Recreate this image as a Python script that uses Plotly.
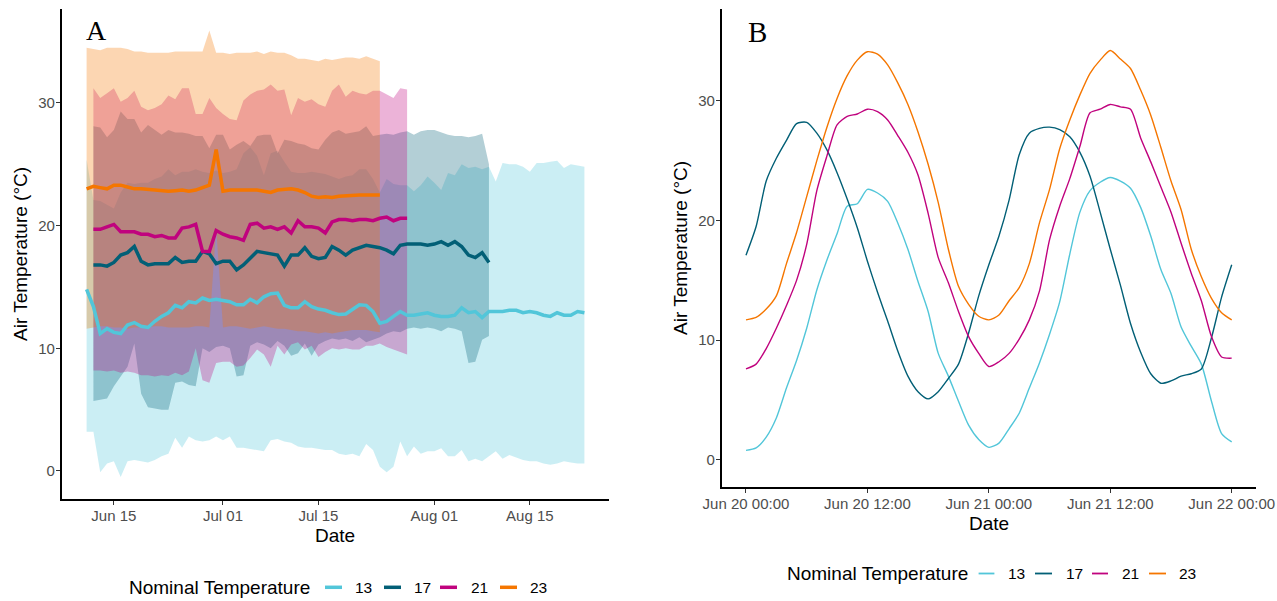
import pandas as pd
import plotly.graph_objects as go

W, H = 1277, 601

# ---------------- Panel A : daily mean / min / max air temperature ----------------
a13_start = "2021-06-11"
a13_mean = [14.8,13.4,11.2,11.6,11.3,11.2,11.9,12.1,11.8,11.7, 12.2,12.6,12.9,13.5,13.3,13.8,13.7,14.1,13.9,14.0,
            13.9,13.8,13.55,13.55,14.0,13.7,14.2,14.45,14.5,13.5, 13.3,13.3,13.8,13.4,13.2,13.1,12.9,12.75,12.8,13.2,
            13.55,13.5,13.0,12.05,12.2,12.6,13.0,12.7,12.7,12.8, 12.9,12.7,12.6,12.6,12.7,13.3,12.9,13.0,12.5,13.0,
            13.0,13.0,13.1,13.1,12.9,13.0,12.9,12.7,12.6,12.9, 12.7,12.7,13.0,12.9]
a13_min = [3.2,3.2,-0.1,0.6,0.8,-0.5,0.8,0.9,0.8,0.7, 0.9,1.2,1.4,2.7,1.9,2.8,2.5,2.4,2.5,2.8,
           2.5,2.8,1.9,1.9,1.8,1.7,1.6,2.5,2.6,2.4, 2.3,2.0,1.9,1.9,1.8,1.7,1.7,1.4,1.3,1.4,
           1.2,2.2,1.7,0.35,-0.1,0.35,2.4,1.2,2.0,1.4, 1.6,1.6,1.85,1.2,1.2,1.7,0.8,1.0,0.8,1.2,
           1.6,1.0,1.3,1.1,0.9,0.8,0.8,0.6,0.5,0.6, 0.8,0.7,0.6,0.6]
a13_max = [25.4,22.1,22.0,21.7,21.4,22.7,23.5,23.4,23.5,23.5, 23.8,24.0,24.6,24.1,24.4,24.4,24.6,24.4,24.3,24.5,
           24.3,24.4,24.6,25.9,26.4,25.7,24.1,25.9,26.1,25.2, 24.4,24.3,24.3,24.4,24.3,24.2,24.0,23.8,24.0,24.1,
           24.6,24.6,23.8,22.7,23.8,23.4,23.3,23.3,22.8,23.3, 24.0,23.5,22.9,24.3,24.1,25.0,24.7,24.8,24.6,24.8,
           23.6,25.1,25.0,25.0,24.8,24.4,25.1,25.1,25.2,25.3, 24.7,25.0,24.9,24.8]

a17_start = "2021-06-12"
a17_mean = [16.8,16.8,16.7,17.0,17.6,17.8,18.3,17.1,16.8,16.9, 16.9,16.9,17.4,17.0,17.1,17.1,17.9,17.7,16.9,17.1,
            17.1,16.4,16.8,17.4,17.9,17.8,17.7,17.6,16.7,17.6, 17.6,18.2,17.5,17.3,17.4,18.3,18.0,17.6,18.0,18.2,
            18.4,18.3,18.2,18.0,17.7,18.4,18.5,18.5,18.5,18.4, 18.5,18.7,18.4,18.7,18.3,17.6,17.4,17.8,17.0]
a17_min = [5.7,5.8,5.9,6.9,7.7,8.5,10.4,6.3,5.2,5.1, 5.0,5.0,7.2,7.3,7.0,6.9,10.0,9.7,10.1,10.2,
           10.0,7.7,7.8,10.2,10.5,10.3,10.0,10.6,10.2,9.4, 9.6,10.4,9.4,10.3,10.6,10.8,10.7,10.8,10.6,10.9,
           10.5,10.7,10.9,11.2,11.4,11.3,11.6,11.7,11.6,11.7, 11.6,11.4,11.7,11.6,11.4,8.8,8.9,10.7,11.0]
a17_max = [28.1,28.0,27.2,27.8,29.3,28.7,28.7,27.6,28.2,27.8, 27.4,27.8,27.6,27.6,27.5,27.3,27.3,26.3,27.4,27.4,
           26.2,26.6,26.9,26.5,27.3,27.4,27.4,25.9,27.0,26.9, 26.7,26.6,26.3,26.2,27.0,27.6,27.8,27.5,27.6,27.7,
           28.1,27.3,27.4,27.5,27.4,27.6,27.7,27.4,27.7,27.8, 27.8,27.6,27.4,27.3,27.3,27.2,27.3,27.5,25.0]

a21_start = "2021-06-12"
a21_mean = [19.7,19.7,19.9,20.1,19.5,19.5,19.5,19.3,19.3,19.1, 19.2,19.0,19.0,19.8,19.9,20.1,17.9,17.9,19.6,19.3,
            19.1,19.0,18.8,20.1,20.2,19.8,19.9,19.7,19.9,19.4, 20.4,19.9,19.9,19.8,19.4,20.3,20.5,20.5,20.4,20.5,
            20.5,20.4,20.6,20.7,20.4,20.6,20.6]
a21_min = [8.2,8.2,8.1,8.2,8.0,8.1,8.0,7.8,7.8,7.7, 7.8,7.75,8.0,7.8,8.1,10.0,7.4,7.2,8.8,8.9,
           8.9,8.5,8.6,9.2,9.9,9.5,8.5,10.2,9.5,10.3, 10.5,9.9,10.2,9.3,9.7,10.0,9.9,10.0,9.9,9.9,
           10.2,10.2,10.4,10.1,9.9,9.7,9.5]
a21_max = [31.2,30.4,30.8,31.2,30.1,30.4,31.0,29.7,29.4,29.6, 29.9,30.6,30.3,31.2,31.2,29.1,29.1,30.4,29.6,29.1,
           28.7,28.6,30.2,30.7,31.0,31.1,31.5,31.0,31.1,29.0, 30.4,30.1,30.3,29.9,29.7,31.0,31.5,30.5,31.0,30.8,
           30.7,31.0,31.0,30.7,30.4,31.2,31.1]

a23_start = "2021-06-11"
a23_mean = [23.0,23.2,23.1,23.0,23.3,23.3,23.15,23.0,23.0,22.95, 22.9,22.85,22.8,22.85,22.9,22.8,22.9,23.1,23.3,26.2,
            22.8,22.9,22.9,22.9,22.9,22.9,22.8,22.7,22.9,22.95, 23.0,22.9,22.7,22.4,22.3,22.35,22.3,22.4,22.45,22.5,
            22.5,22.5,22.5,22.5]
a23_min = [11.6,11.7,11.8,11.8,11.7,11.7,11.6,11.7,11.7,11.7, 11.8,11.8,11.7,11.7,11.7,11.7,11.8,11.8,11.7,19.8,
           11.7,11.8,11.8,11.7,11.6,11.7,11.8,11.7,11.6,11.6, 11.5,11.4,11.4,11.3,11.2,11.3,11.2,11.3,11.4,11.5,
           11.5,11.5,11.4,11.3]
a23_max = [34.5,34.4,34.3,34.5,34.5,34.5,34.4,34.2,34.2,34.1, 34.1,34.1,34.1,34.2,34.2,34.2,34.2,34.2,35.9,34.1,
           34.1,34.0,34.1,34.1,34.1,34.2,34.0,34.2,34.1,34.1, 33.9,33.6,33.6,33.5,33.4,33.6,33.5,33.6,33.7,33.7,
           33.6,33.8,33.6,33.4]

# ---------------- Panel B : hourly air temperature, Jun 20-22 ----------------
b_start = "2021-06-20 00:00"
b13 = [0.8,1.0,1.9,3.5,6.0,8.3,11.0,14.2,16.7,18.9, 21.2,21.4,22.6,22.3,21.6,19.8,17.6,14.9,12.4,8.9,
       7.0,4.9,2.9,1.7,1.05,1.4,2.6,3.9,6.0,8.1, 10.5,13.2,17.2,20.7,22.5,23.2,23.6,23.3,22.7,21.1,
       18.7,15.9,13.9,11.1,9.5,8.0,4.9,2.2,1.5]
b17 = [17.1,19.5,23.3,25.2,26.7,28.1,28.2,27.3,25.9,24.0, 21.8,19.4,16.6,14.0,11.6,9.1,7.0,5.7,5.1,5.7,
       6.8,8.0,10.6,13.7,16.3,18.7,21.7,25.5,27.3,27.7, 27.8,27.6,27.0,25.7,23.7,20.7,17.6,14.6,11.4,9.0,
       7.2,6.4,6.6,7.0,7.2,7.6,10.2,13.6,16.3]
b21 = [7.6,8.0,9.3,11.0,12.9,15.0,18.0,22.5,25.4,28.0, 28.7,28.9,29.3,29.1,28.4,27.1,25.7,23.8,20.6,16.9,
       14.8,12.4,10.3,8.9,7.8,8.2,8.9,10.1,11.7,14.1, 18.4,21.2,23.5,26.2,29.0,29.3,29.7,29.5,29.3,26.9,
       24.9,22.8,20.7,18.1,15.6,13.3,10.3,8.6,8.5]
b23 = [11.7,11.9,12.6,13.7,16.4,19.0,22.0,25.0,27.8,30.2, 32.1,33.4,34.1,33.9,33.0,31.5,29.7,27.4,24.7,21.5,
       17.6,14.5,13.0,12.0,11.7,12.1,13.3,14.4,16.4,19.8, 22.6,26.0,28.4,30.5,32.3,33.4,34.2,33.5,32.7,30.9,
       28.8,26.1,23.3,20.9,17.6,15.3,13.5,12.3,11.7]

groups = ["13", "17", "21", "23"]
colors = {"13": "#52C6D9", "17": "#025F76", "21": "#C0037E", "23": "#F57600"}
legend_title = "Nominal Temperature"

seriesA = {
    "13": (a13_start, a13_mean, a13_min, a13_max),
    "17": (a17_start, a17_mean, a17_min, a17_max),
    "21": (a21_start, a21_mean, a21_min, a21_max),
    "23": (a23_start, a23_mean, a23_min, a23_max),
}
seriesB = {"13": b13, "17": b17, "21": b21, "23": b23}


def rgba(hexc, a):
    h = hexc.lstrip("#")
    r, g, b = int(h[0:2], 16), int(h[2:4], 16), int(h[4:6], 16)
    return f"rgba({r},{g},{b},{a})"


def px(x):
    return x / W


def py(y):
    return 1 - y / H


fig = go.Figure()

# ribbons first (13 -> 23), then mean lines
all_dates = []
for g in groups:
    st, mean, lo, hi = seriesA[g]
    d = pd.date_range(st, periods=len(mean), freq="D")
    all_dates.extend(list(d))
    fig.add_trace(go.Scatter(x=d, y=lo, mode="lines", line=dict(width=0, color=colors[g]),
                             showlegend=False, hoverinfo="skip", xaxis="x", yaxis="y"))
    fig.add_trace(go.Scatter(x=d, y=hi, mode="lines", line=dict(width=0, color=colors[g]),
                             fill="tonexty", fillcolor=rgba(colors[g], 0.3),
                             showlegend=False, hoverinfo="skip", xaxis="x", yaxis="y"))
for g in groups:
    st, mean, lo, hi = seriesA[g]
    d = pd.date_range(st, periods=len(mean), freq="D")
    fig.add_trace(go.Scatter(x=d, y=mean, mode="lines", line=dict(width=3.5, color=colors[g]),
                             showlegend=False, xaxis="x", yaxis="y"))

tb = None
for g in groups:
    vals = seriesB[g]
    tb = pd.date_range(b_start, periods=len(vals), freq="h")
    fig.add_trace(go.Scatter(x=tb, y=vals, mode="lines",
                             line=dict(width=1.4, color=colors[g], shape="spline", smoothing=0.7),
                             showlegend=False, xaxis="x2", yaxis="y2"))

# ggplot-like 5% expansion of the date ranges
a_lo, a_hi = min(all_dates), max(all_dates)
a_pad = (a_hi - a_lo) * 0.05
b_lo, b_hi = tb[0], tb[-1]
b_pad = (b_hi - b_lo) * 0.05

tickfont = dict(family="Liberation Sans", size=15, color="#4D4D4D")
axis_common = dict(showline=True, linecolor="black", linewidth=1.6, ticks="outside", ticklen=4,
                   tickwidth=1.1, tickcolor="#333333", showgrid=False, zeroline=False,
                   tickfont=tickfont, automargin=False, ticklabelstandoff=-2)

fig.update_layout(
    template="none",
    width=W, height=H, margin=dict(l=0, r=0, t=0, b=0, pad=0), autosize=False,
    paper_bgcolor="white", plot_bgcolor="white", showlegend=False,
    xaxis=dict(domain=[px(61.7), px(609.3)], range=[a_lo - a_pad, a_hi + a_pad], anchor="y",
               tickvals=pd.to_datetime(["2021-06-15", "2021-07-01", "2021-07-15", "2021-08-01", "2021-08-15"]),
               tickformat="%b %d", **axis_common),
    yaxis=dict(domain=[py(499.3), py(8.9)], range=[-2.31, 37.67], anchor="x",
               tickvals=[0, 10, 20, 30], **axis_common),
    xaxis2=dict(domain=[px(721.7), px(1256)], range=[b_lo - b_pad, b_hi + b_pad], anchor="y2",
                tickvals=pd.date_range("2021-06-20", periods=5, freq="12h"),
                tickformat="%b %d %H:%M", **axis_common),
    yaxis2=dict(domain=[py(486.7), py(9.4)], range=[-2.24, 37.64], anchor="x2",
                tickvals=[0, 10, 20, 30], **axis_common),
)

ann = []
title_font = dict(family="Liberation Sans", size=19, color="black")
# panel tags
ann.append(dict(text="A", x=px(96), y=py(31), xref="paper", yref="paper", showarrow=False,
                xanchor="center", yanchor="middle", font=dict(family="Liberation Serif", size=28, color="black")))
ann.append(dict(text="B", x=px(758), y=py(32.3), xref="paper", yref="paper", showarrow=False,
                xanchor="center", yanchor="middle", font=dict(family="Liberation Serif", size=29, color="black")))
# axis titles
ann.append(dict(text="Date", x=px(335.5), y=py(535.7), xref="paper", yref="paper", showarrow=False,
                xanchor="center", yanchor="middle", font=title_font))
ann.append(dict(text="Air Temperature (°C)", x=px(20), y=py(254), xref="paper", yref="paper",
                showarrow=False, textangle=-90, xanchor="center", yanchor="middle", font=title_font))
ann.append(dict(text="Date", x=px(988.9), y=py(523), xref="paper", yref="paper", showarrow=False,
                xanchor="center", yanchor="middle", font=title_font))
ann.append(dict(text="Air Temperature (°C)", x=px(680), y=py(248), xref="paper", yref="paper",
                showarrow=False, textangle=-90, xanchor="center", yanchor="middle", font=title_font))

shapes = []
label_font = dict(family="Liberation Sans", size=15.5, color="black")


def add_legend(ycen, title_x, sw, lab_x, lw):
    ann.append(dict(text=legend_title, x=px(title_x), y=py(ycen), xref="paper", yref="paper",
                    showarrow=False, xanchor="left", yanchor="middle", font=title_font))
    for g, (x0, x1), lx in zip(groups, sw, lab_x):
        shapes.append(dict(type="line", xref="paper", yref="paper", x0=px(x0), x1=px(x1),
                           y0=py(ycen), y1=py(ycen), line=dict(color=colors[g], width=lw)))
        ann.append(dict(text=g, x=px(lx), y=py(ycen), xref="paper", yref="paper", showarrow=False,
                        xanchor="left", yanchor="middle", font=label_font))


add_legend(587.3, 126.6, [(325, 342), (384, 401), (440, 457), (500, 517)], [353, 412, 469, 528], 3.5)
add_legend(573.5, 784.7, [(978.6, 994.4), (1035, 1052), (1092, 1108), (1149, 1166)],
           [1006, 1064, 1120, 1177], 1.8)

fig.update_layout(annotations=ann, shapes=shapes)

fig.write_html("out.html", config={"displayModeBar": False},
               post_script="document.body.style.margin='0px';document.body.style.overflow='hidden';")
